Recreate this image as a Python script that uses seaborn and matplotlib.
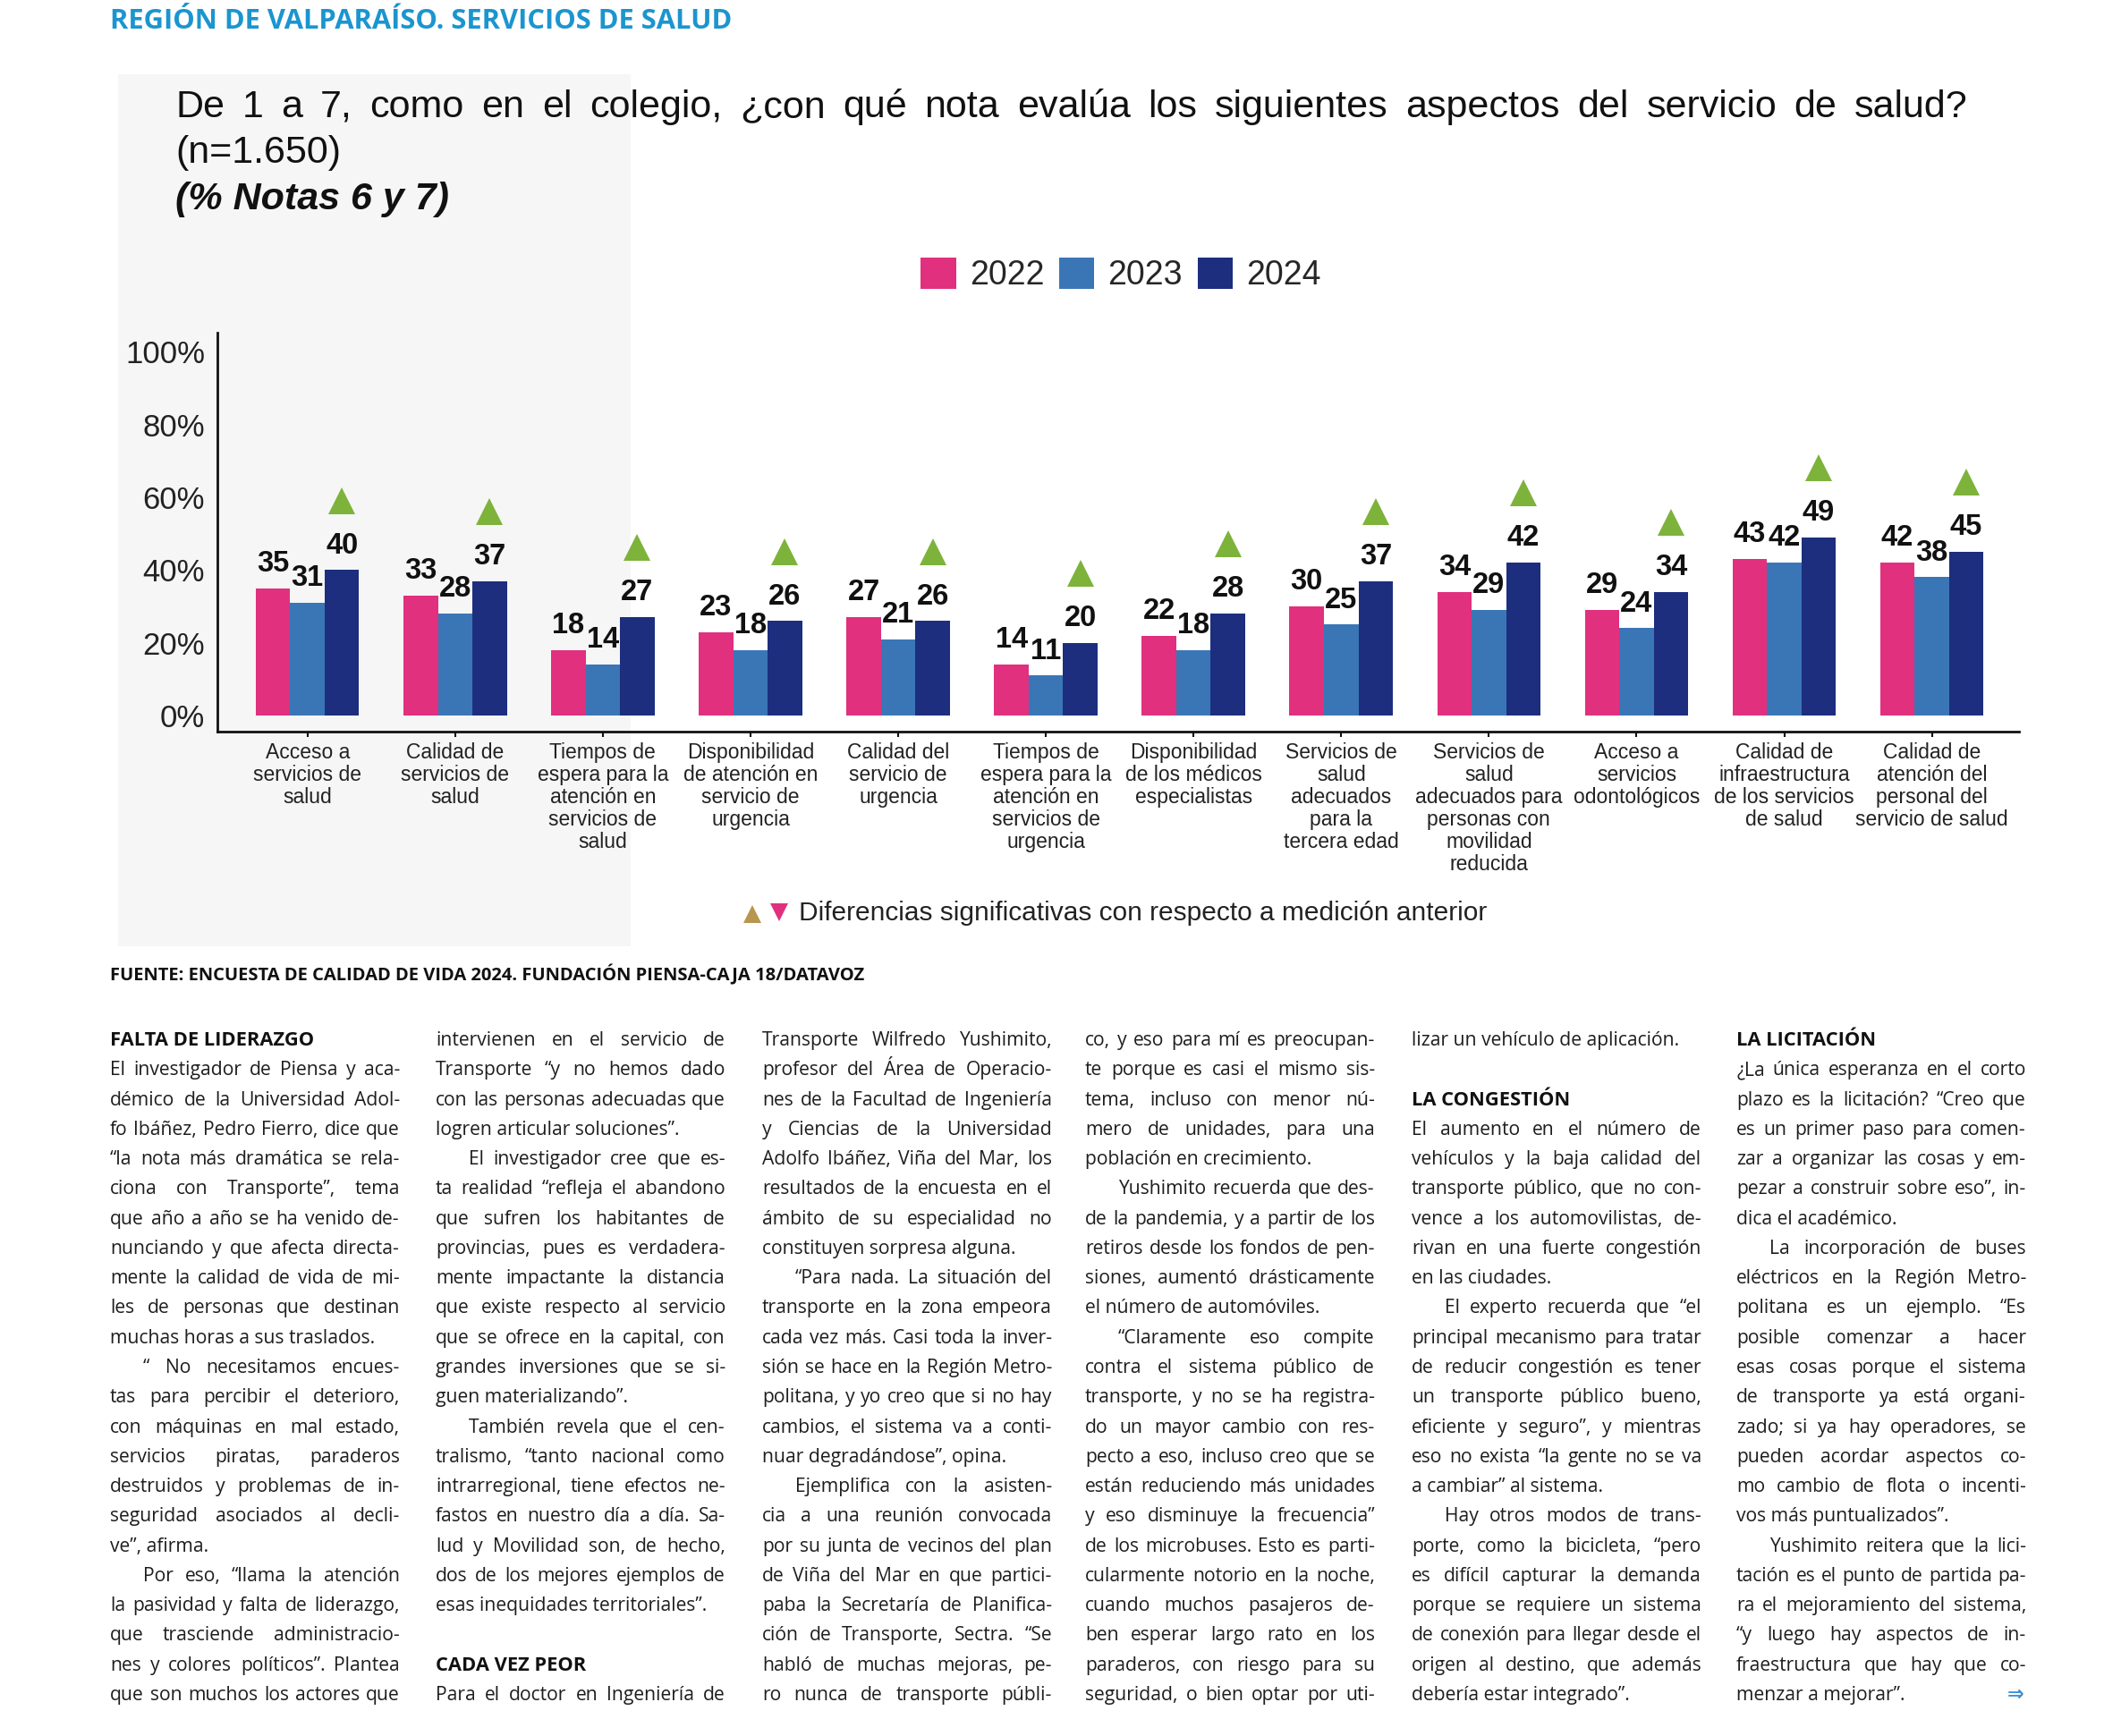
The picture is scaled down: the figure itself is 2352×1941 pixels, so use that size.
import matplotlib
matplotlib.use("Agg")
import numpy as np
import pandas as pd
import seaborn as sns
import matplotlib.pyplot as plt
from matplotlib import font_manager as fm
from matplotlib.font_manager import FontProperties
from matplotlib.transforms import offset_copy
from matplotlib.lines import Line2D
from matplotlib.patches import Rectangle

# ----------------------------------------------------------------- data
categories = [
    "Acceso a\nservicios de\nsalud",
    "Calidad de\nservicios de\nsalud",
    "Tiempos de\nespera para la\natención en\nservicios de\nsalud",
    "Disponibilidad\nde atención en\nservicio de\nurgencia",
    "Calidad del\nservicio de\nurgencia",
    "Tiempos de\nespera para la\natención en\nservicios de\nurgencia",
    "Disponibilidad\nde los médicos\nespecialistas",
    "Servicios de\nsalud\nadecuados\npara la\ntercera edad",
    "Servicios de\nsalud\nadecuados para\npersonas con\nmovilidad\nreducida",
    "Acceso a\nservicios\nodontológicos",
    "Calidad de\ninfraestructura\nde los servicios\nde salud",
    "Calidad de\natención del\npersonal del\nservicio de salud",
]
years = ["2022", "2023", "2024"]
values_2022 = [35, 33, 18, 23, 27, 14, 22, 30, 34, 29, 43, 42]
values_2023 = [31, 28, 14, 18, 21, 11, 18, 25, 29, 24, 42, 38]
values_2024 = [40, 37, 27, 26, 26, 20, 28, 37, 42, 34, 49, 45]
significant_up_2024 = [True] * 12
y_ticks = [0, 20, 40, 60, 80, 100]
y_tick_labels = ["0%", "20%", "40%", "60%", "80%", "100%"]

header_text = "REGIÓN DE VALPARAÍSO. SERVICIOS DE SALUD"
title_line1 = "De 1 a 7, como en el colegio, ¿con qué nota evalúa los siguientes aspectos del servicio de salud?"
title_line2 = "(n=1.650)"
title_line3 = "(% Notas 6 y 7)"
footnote_text = "Diferencias significativas con respecto a medición anterior"
source_text = "FUENTE: ENCUESTA DE CALIDAD DE VIDA 2024. FUNDACIÓN PIENSA-CAJA 18/DATAVOZ"

# article columns: "H:" heading, "I:" indented first line, "" blank line
column_1 = [
    "H:FALTA DE LIDERAZGO",
    "El investigador de Piensa y aca-",
    "démico de la Universidad Adol-",
    "fo Ibáñez, Pedro Fierro, dice que",
    "“la nota más dramática se rela-",
    "ciona con Transporte”, tema",
    "que año a año se ha venido de-",
    "nunciando y que afecta directa-",
    "mente la calidad de vida de mi-",
    "les de personas que destinan",
    "muchas horas a sus traslados.",
    "I:“ No necesitamos encues-",
    "tas para percibir el deterioro,",
    "con máquinas en mal estado,",
    "servicios piratas, paraderos",
    "destruidos y problemas de in-",
    "seguridad asociados al decli-",
    "ve”, afirma.",
    "I:Por eso, “llama la atención",
    "la pasividad y falta de liderazgo,",
    "que trasciende administracio-",
    "nes y colores políticos”. Plantea",
    "que son muchos los actores que",
]
column_2 = [
    "intervienen en el servicio de",
    "Transporte “y no hemos dado",
    "con las personas adecuadas que",
    "logren articular soluciones”.",
    "I:El investigador cree que es-",
    "ta realidad “refleja el abandono",
    "que sufren los habitantes de",
    "provincias, pues es verdadera-",
    "mente impactante la distancia",
    "que existe respecto al servicio",
    "que se ofrece en la capital, con",
    "grandes inversiones que se si-",
    "guen materializando”.",
    "I:También revela que el cen-",
    "tralismo, “tanto nacional como",
    "intrarregional, tiene efectos ne-",
    "fastos en nuestro día a día. Sa-",
    "lud y Movilidad son, de hecho,",
    "dos de los mejores ejemplos de",
    "esas inequidades territoriales”.",
    "",
    "H:CADA VEZ PEOR",
    "Para el doctor en Ingeniería de",
]
column_3 = [
    "Transporte Wilfredo Yushimito,",
    "profesor del Área de Operacio-",
    "nes de la Facultad de Ingeniería",
    "y Ciencias de la Universidad",
    "Adolfo Ibáñez, Viña del Mar, los",
    "resultados de la encuesta en el",
    "ámbito de su especialidad no",
    "constituyen sorpresa alguna.",
    "I:“Para nada. La situación del",
    "transporte en la zona empeora",
    "cada vez más. Casi toda la inver-",
    "sión se hace en la Región Metro-",
    "politana, y yo creo que si no hay",
    "cambios, el sistema va a conti-",
    "nuar degradándose”, opina.",
    "I:Ejemplifica con la asisten-",
    "cia a una reunión convocada",
    "por su junta de vecinos del plan",
    "de Viña del Mar en que partici-",
    "paba la Secretaría de Planifica-",
    "ción de Transporte, Sectra. “Se",
    "habló de muchas mejoras, pe-",
    "ro nunca de transporte públi-",
]
column_4 = [
    "co, y eso para mí es preocupan-",
    "te porque es casi el mismo sis-",
    "tema, incluso con menor nú-",
    "mero de unidades, para una",
    "población en crecimiento.",
    "I:Yushimito recuerda que des-",
    "de la pandemia, y a partir de los",
    "retiros desde los fondos de pen-",
    "siones, aumentó drásticamente",
    "el número de automóviles.",
    "I:“Claramente eso compite",
    "contra el sistema público de",
    "transporte, y no se ha registra-",
    "do un mayor cambio con res-",
    "pecto a eso, incluso creo que se",
    "están reduciendo más unidades",
    "y eso disminuye la frecuencia”",
    "de los microbuses. Esto es parti-",
    "cularmente notorio en la noche,",
    "cuando muchos pasajeros de-",
    "ben esperar largo rato en los",
    "paraderos, con riesgo para su",
    "seguridad, o bien optar por uti-",
]
column_5 = [
    "lizar un vehículo de aplicación.",
    "",
    "H:LA CONGESTIÓN",
    "El aumento en el número de",
    "vehículos y la baja calidad del",
    "transporte público, que no con-",
    "vence a los automovilistas, de-",
    "rivan en una fuerte congestión",
    "en las ciudades.",
    "I:El experto recuerda que “el",
    "principal mecanismo para tratar",
    "de reducir congestión es tener",
    "un transporte público bueno,",
    "eficiente y seguro”, y mientras",
    "eso no exista “la gente no se va",
    "a cambiar” al sistema.",
    "I:Hay otros modos de trans-",
    "porte, como la bicicleta, “pero",
    "es difícil capturar la demanda",
    "porque se requiere un sistema",
    "de conexión para llegar desde el",
    "origen al destino, que además",
    "debería estar integrado”.",
]
column_6 = [
    "H:LA LICITACIÓN",
    "¿La única esperanza en el corto",
    "plazo es la licitación? “Creo que",
    "es un primer paso para comen-",
    "zar a organizar las cosas y em-",
    "pezar a construir sobre eso”, in-",
    "dica el académico.",
    "I:La incorporación de buses",
    "eléctricos en la Región Metro-",
    "politana es un ejemplo. “Es",
    "posible comenzar a hacer",
    "esas cosas porque el sistema",
    "de transporte ya está organi-",
    "zado; si ya hay operadores, se",
    "pueden acordar aspectos co-",
    "mo cambio de flota o incenti-",
    "vos más puntualizados”.",
    "I:Yushimito reitera que la lici-",
    "tación es el punto de partida pa-",
    "ra el mejoramiento del sistema,",
    "“y luego hay aspectos de in-",
    "fraestructura que hay que co-",
    "menzar a mejorar”.",
]
article_columns = [column_1, column_2, column_3, column_4, column_5, column_6]

# ----------------------------------------------------------------- style
W, H = 2352, 1941
DPI = 100
PINK, BLUE, NAVY = "#e0307e", "#3a76b6", "#1d2e7e"
GREEN = "#7db33a"

sns.set_theme(style="white")
plt.rcParams["font.family"] = ["Liberation Sans", "DejaVu Sans"]
plt.rcParams["axes.unicode_minus"] = False

names = {f.name for f in fm.fontManager.ttflist}
body_family = next(n for n in ["Liberation Sans Narrow", "Open Sans", "Lato", "Liberation Sans"] if n in names)
body_fam_list = [body_family, "DejaVu Sans"]

fig = plt.figure(figsize=(W / DPI, H / DPI), dpi=DPI, facecolor="white")
renderer = fig.canvas.get_renderer()


def fx(x):
    return x / W


def fy(y):
    return 1 - y / H


def measure(s, prop):
    w, h, d = renderer.get_text_width_height_descent(s, prop, ismath=False)
    return w


def fit_size(s, target_w, base=20, **kw):
    p = FontProperties(size=base, **kw)
    return base * target_w / measure(s, p)


def place_justified(x0, width, y, text, prop, color, justify=True):
    words = text.split()
    if (not justify) or len(words) < 2:
        fig.text(fx(x0), fy(y), text, fontproperties=prop, color=color,
                 ha="left", va="baseline")
        return
    ws = [measure(w, prop) for w in words]
    gap = (width - sum(ws)) / (len(words) - 1)
    x = x0
    for w, wd in zip(words, ws):
        fig.text(fx(x), fy(y), w, fontproperties=prop, color=color,
                 ha="left", va="baseline")
        x += wd + gap


# faint panel behind the left part of the graphic
fig.add_artist(Rectangle((fx(132), fy(1058)), fx(705) - fx(132), fy(83) - fy(1058),
                         transform=fig.transFigure, facecolor="#f6f6f6",
                         edgecolor="none", zorder=-10))

# ----------------------------------------------------------------- header
hs = fit_size(header_text, 697, family=[body_family], weight="bold")
fig.text(fx(123), fy(24), header_text, fontsize=hs, family=body_fam_list,
         weight="bold", color="#1b95cf", ha="left", va="center")

# ----------------------------------------------------------------- title
tprop = FontProperties(family=["Liberation Sans"], size=31)
if measure(title_line1, tprop) > 2005:
    tprop = FontProperties(family=["Liberation Sans"], size=31 * 1995 / measure(title_line1, tprop))
place_justified(196, 2004, 131, title_line1, tprop, "#111111", justify=True)
fig.text(fx(196), fy(182), title_line2, fontproperties=tprop, color="#111111",
         ha="left", va="baseline")
fig.text(fx(196), fy(234), title_line3, family=["Liberation Sans"], size=tprop.get_size(),
         weight="bold", style="italic", color="#111111", ha="left", va="baseline")

# ----------------------------------------------------------------- chart
df = pd.DataFrame({
    "categoria": [c for c in categories for _ in years],
    "año": [y for _ in categories for y in years],
    "valor": [v for trio in zip(values_2022, values_2023, values_2024) for v in trio],
})

ax = fig.add_axes([fx(243), fy(818), fx(2257) - fx(243), fy(372) - fy(818)])
ax.set_facecolor("none")
sns.barplot(data=df, x="categoria", y="valor", hue="año", hue_order=years,
            order=categories, palette=[PINK, BLUE, NAVY], width=0.70,
            saturation=1, linewidth=0, errorbar=None, ax=ax)

ax.set_xlim(-0.61, len(categories) - 1 + 0.59)
ax.set_ylim(-4.4, 105.2)
ax.set_yticks(y_ticks)
ax.set_yticklabels(y_tick_labels, fontsize=25, color="#222222")
ax.set_xlabel("")
ax.set_ylabel("")
ax.tick_params(axis="y", length=0, pad=10)
ax.tick_params(axis="x", length=4.5, width=1.5, color="#111111", pad=4,
               direction="out", bottom=True)
for lab in ax.get_xticklabels():
    lab.set_fontsize(16.5)
    lab.set_color("#222222")
    lab.set_linespacing(1.11)
sns.despine(ax=ax, top=True, right=True)
for side in ["left", "bottom"]:
    ax.spines[side].set_linewidth(2.0)
    ax.spines[side].set_color("#111111")

series = [values_2022, values_2023, values_2024]
for cont, vals in zip(ax.containers, series):
    for bar, v in zip(cont.patches, vals):
        xc = bar.get_x() + bar.get_width() / 2
        ax.annotate(f"{v}", (xc, v), xytext=(0, 13.5), textcoords="offset points",
                    ha="center", va="baseline", fontsize=23.5, fontweight="bold",
                    color="#111111", annotation_clip=False)

tri_tr = offset_copy(ax.transData, fig=fig, x=0, y=56, units="points")
navy_bars = ax.containers[2].patches
tx = [b.get_x() + b.get_width() / 2 for b, s in zip(navy_bars, significant_up_2024) if s]
ty = [v for v, s in zip(values_2024, significant_up_2024) if s]
ax.plot(tx, ty, linestyle="none", marker="^", markersize=21.5, color=GREEN,
        markeredgewidth=0, transform=tri_tr, clip_on=False)

handles, labels = ax.get_legend_handles_labels()
ax.legend(handles, labels, loc="center", bbox_to_anchor=(fx(1253), fy(307)),
          bbox_transform=fig.transFigure, ncol=3, frameon=False, fontsize=27,
          handlelength=1.05, handleheight=1.05, handletextpad=0.4,
          columnspacing=0.45, borderpad=0, borderaxespad=0)

# ----------------------------------------------------------------- footnote
fig.add_artist(Line2D([fx(841)], [fy(1022)], marker="^", markersize=15, color="#b8964e",
                      markeredgewidth=0, linestyle="none", transform=fig.transFigure))
fig.add_artist(Line2D([fx(871)], [fy(1020)], marker="v", markersize=15, color="#e0307e",
                      markeredgewidth=0, linestyle="none", transform=fig.transFigure))
fs = fit_size(footnote_text, 769, family=["Liberation Sans"])
fig.text(fx(893), fy(1021), footnote_text, fontsize=fs, family=["Liberation Sans"],
         color="#222222", ha="left", va="center")

ss = fit_size(source_text, 845, family=[body_family], weight="bold")
fig.text(fx(123), fy(1090), source_text, fontsize=ss, family=body_fam_list,
         weight="bold", color="#111111", ha="left", va="center")

# ----------------------------------------------------------------- article
col_x = [123, 487, 852, 1213, 1578, 1941]
col_w = 324
indent = 37
base_y = 1169
step = 33.27
body_size = 17.0

# shrink body size if some justified line would not fit
test_prop = FontProperties(family=[body_family], size=body_size)
ratio = 1.0
for col in article_columns:
    for line in col:
        if not line or line.startswith("H:"):
            continue
        txt = line[2:] if line.startswith("I:") else line
        avail = col_w - (indent if line.startswith("I:") else 0)
        nat = measure(txt, test_prop)
        ratio = max(ratio, nat / (avail - 4))
body_size = body_size / ratio
body_prop = FontProperties(family=body_fam_list, size=body_size)
head_prop = FontProperties(family=body_fam_list, size=body_size * 1.04, weight="bold")

for cx, col in zip(col_x, article_columns):
    for i, line in enumerate(col):
        y = base_y + i * step
        if not line:
            continue
        if line.startswith("H:"):
            fig.text(fx(cx), fy(y), line[2:], fontproperties=head_prop,
                     color="#111111", ha="left", va="baseline")
            continue
        ind = line.startswith("I:")
        txt = line[2:] if ind else line
        nxt = col[i + 1] if i + 1 < len(col) else None
        if nxt is None:
            justify = not txt.endswith(".")
        else:
            justify = not (nxt == "" or nxt.startswith("I:") or nxt.startswith("H:"))
        x0 = cx + (indent if ind else 0)
        place_justified(x0, col_w - (indent if ind else 0), y, txt, body_prop,
                        "#1e1e1e", justify=justify)

fig.text(fx(2262), fy(base_y + 22 * step - 6), "⇒", family=["DejaVu Sans"], fontsize=16,
         weight="bold", color="#3d8fd1", ha="right", va="center")

fig.savefig("out.png", dpi=DPI, facecolor="white")
